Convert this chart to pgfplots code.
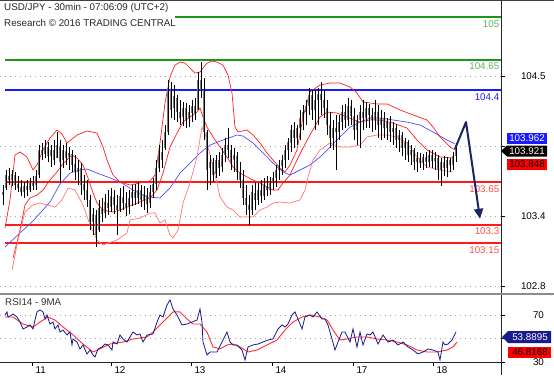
\documentclass[border=0pt]{standalone}
\usepackage{fontspec}
\setmainfont{Liberation Sans}
\usepackage{pgfplots}
\pgfplotsset{compat=1.18}
\usepackage{pgfplotstable}
\usetikzlibrary{arrows.meta}

\definecolor{lvlgreen}{HTML}{1E961E}
\definecolor{lvlgreentxt}{HTML}{5DB55D}
\definecolor{lvlred}{HTML}{FF1A1A}
\definecolor{lvlredtxt}{HTML}{FF5050}
\definecolor{lvlblue}{HTML}{1A1AFF}
\definecolor{bandred}{HTML}{FF2020}
\definecolor{bandlight}{HTML}{FF7777}
\definecolor{mablue}{HTML}{5050FF}
\definecolor{rsiblue}{HTML}{1A1A8C}
\definecolor{rsired}{HTML}{FF3030}
\definecolor{arrownavy}{HTML}{1C2466}
\definecolor{bodygray}{HTML}{7A7A7A}

\pgfplotstableread{
x lo hi o c
3 103.463 103.626 103.544 103.569
6 103.585 103.749 103.602 103.708
9 103.626 103.765 103.700 103.667
12 103.618 103.749 103.667 103.716
15 103.585 103.733 103.708 103.626
18 103.569 103.700 103.634 103.602
21 103.536 103.667 103.610 103.569
24 103.520 103.651 103.569 103.618
27 103.536 103.667 103.618 103.585
30 103.569 103.684 103.585 103.651
33 103.585 103.700 103.651 103.618
36 103.585 103.749 103.626 103.700
39 103.684 103.953 103.708 103.913
42 103.831 103.970 103.913 103.872
45 103.847 103.994 103.880 103.945
48 103.814 103.978 103.937 103.863
51 103.773 103.953 103.863 103.913
54 103.790 103.994 103.913 103.831
57 103.847 104.060 103.847 103.953
60 103.643 103.994 103.945 103.814
63 103.765 103.953 103.831 103.913
66 103.790 103.970 103.904 103.847
69 103.749 103.937 103.855 103.888
72 103.733 103.913 103.880 103.790
75 103.667 103.872 103.798 103.733
78 103.626 103.831 103.733 103.765
81 103.544 103.806 103.765 103.626
84 103.504 103.708 103.634 103.585
87 103.446 103.667 103.585 103.504
90 103.258 103.544 103.504 103.324
93 103.217 103.438 103.324 103.389
96 103.119 103.422 103.381 103.217
99 103.242 103.504 103.258 103.438
102 103.324 103.520 103.430 103.389
105 103.356 103.553 103.397 103.487
108 103.381 103.585 103.479 103.438
111 103.405 103.602 103.446 103.536
114 103.389 103.585 103.528 103.463
117 103.217 103.544 103.463 103.422
120 103.405 103.602 103.422 103.536
123 103.422 103.618 103.528 103.479
126 103.373 103.569 103.479 103.438
129 103.389 103.585 103.446 103.520
132 103.454 103.626 103.520 103.569
135 103.463 103.634 103.569 103.520
138 103.471 103.651 103.520 103.585
141 103.446 103.626 103.585 103.504
144 103.422 103.618 103.504 103.553
147 103.397 103.602 103.544 103.471
150 103.438 103.626 103.479 103.569
153 103.520 103.684 103.569 103.634
156 103.585 103.831 103.634 103.765
159 103.733 103.953 103.765 103.896
162 103.765 103.994 103.896 103.831
165 103.913 104.117 103.929 104.060
168 104.035 104.485 104.060 104.419
171 104.174 104.468 104.403 104.240
174 104.158 104.444 104.256 104.354
177 104.141 104.362 104.338 104.223
180 104.117 104.321 104.223 104.174
183 104.109 104.305 104.182 104.256
186 104.092 104.297 104.256 104.158
189 104.100 104.280 104.174 104.223
192 104.141 104.321 104.215 104.272
195 104.158 104.338 104.272 104.207
198 104.240 104.550 104.240 104.485
201 104.338 104.632 104.485 104.403
204 103.994 104.501 104.403 104.060
207 103.585 104.076 104.060 103.749
210 103.626 103.872 103.765 103.814
213 103.651 103.847 103.814 103.708
216 103.684 103.872 103.716 103.831
219 103.700 103.896 103.831 103.765
222 103.733 103.929 103.773 103.872
225 103.814 104.011 103.872 103.953
228 103.847 104.092 103.953 103.913
231 103.749 103.953 103.913 103.814
234 103.733 103.929 103.831 103.872
237 103.667 103.896 103.863 103.733
240 103.602 103.814 103.733 103.667
243 103.463 103.749 103.667 103.520
246 103.381 103.626 103.520 103.463
249 103.299 103.544 103.463 103.422
252 103.381 103.626 103.422 103.569
255 103.422 103.651 103.561 103.504
258 103.463 103.643 103.504 103.585
261 103.479 103.667 103.585 103.536
264 103.504 103.684 103.536 103.626
267 103.536 103.700 103.618 103.585
270 103.544 103.692 103.585 103.651
273 103.585 103.733 103.651 103.684
276 103.610 103.790 103.684 103.749
279 103.667 103.831 103.749 103.790
282 103.708 103.872 103.782 103.831
285 103.765 103.953 103.831 103.913
288 103.831 104.011 103.913 103.978
291 103.896 104.117 103.970 104.076
294 103.929 104.141 104.076 104.011
297 103.953 104.117 104.011 104.092
300 103.994 104.240 104.092 104.174
303 104.076 104.280 104.174 104.223
306 104.117 104.321 104.223 104.272
309 104.199 104.419 104.272 104.362
312 104.158 104.403 104.362 104.240
315 104.076 104.403 104.240 104.321
318 104.117 104.419 104.321 104.370
321 104.199 104.468 104.370 104.321
324 104.174 104.403 104.321 104.256
327 104.035 104.321 104.256 104.117
330 103.929 104.223 104.117 104.011
333 103.913 104.158 104.011 104.092
336 103.749 104.199 104.092 104.060
339 103.994 104.199 104.060 104.141
342 104.076 104.280 104.141 104.223
345 104.092 104.289 104.223 104.158
348 104.109 104.338 104.158 104.272
351 104.117 104.321 104.272 104.190
354 103.994 104.256 104.190 104.076
357 103.953 104.199 104.076 104.158
360 103.929 104.280 104.158 104.223
363 104.076 104.321 104.223 104.174
366 104.092 104.305 104.174 104.256
369 104.092 104.289 104.256 104.199
372 104.060 104.256 104.199 104.158
375 104.076 104.321 104.158 104.223
378 104.011 104.280 104.223 104.117
381 103.994 104.240 104.117 104.174
384 104.011 104.223 104.174 104.092
387 103.994 104.174 104.092 104.141
390 103.978 104.190 104.141 104.060
393 103.953 104.141 104.060 104.092
396 103.929 104.125 104.092 103.994
399 103.896 104.076 103.994 104.035
402 103.863 104.060 104.035 103.929
405 103.831 104.011 103.929 103.978
408 103.814 103.994 103.978 103.872
411 103.790 103.953 103.872 103.913
414 103.749 103.929 103.913 103.814
417 103.733 103.896 103.814 103.847
420 103.765 103.888 103.847 103.806
423 103.749 103.880 103.806 103.855
426 103.765 103.896 103.855 103.814
429 103.773 103.913 103.814 103.872
432 103.765 103.913 103.872 103.822
435 103.749 103.896 103.822 103.847
438 103.667 103.872 103.847 103.749
441 103.618 103.847 103.749 103.814
444 103.700 103.863 103.814 103.765
447 103.692 103.855 103.765 103.831
450 103.733 103.847 103.831 103.790
453 103.749 103.896 103.790 103.863
456 103.814 103.970 103.863 103.921
}\bars

\begin{document}
\begin{tikzpicture}
\useasboundingbox (0pt,0pt) rectangle (554pt,-375pt);
\fill[white] (0pt,0pt) rectangle (554pt,-375pt);

% ---------------- main price panel ----------------
\begin{axis}[
  at={(0pt,-1pt)}, anchor=north west,
  scale only axis, width=501pt, height=292pt,
  xmin=0, xmax=501, ymin=102.743, ymax=105.131,
  axis x line=none, axis y line*=right,
  axis line style={black!85, line width=0.8pt},
  xtick=\empty,
  ytick={104.518,103.946,103.374,102.80},
  yticklabels={104.5,,103.4,102.8},
  ymajorgrids,
  major grid style={black!35, dash pattern=on 0.8pt off 4.2pt},
  tick align=outside, major tick length=4pt,
  y tick style={black, line width=0.6pt},
  yticklabel style={font=\fontsize{9.8}{11}\selectfont, anchor=west, xshift=12.5pt},
  /pgf/number format/assume math mode=true,
  clip=true,
]
% level lines
\addplot[lvlgreen, line width=2pt] coordinates {(175,105) (501,105)};
\addplot[lvlgreen, line width=2pt] coordinates {(5,104.65) (501,104.65)};
\addplot[lvlblue, line width=2pt] coordinates {(5,104.4) (501,104.4)};
\addplot[lvlred, line width=2pt] coordinates {(5,103.65) (501,103.65)};
\addplot[lvlred, line width=2pt] coordinates {(5,103.3) (501,103.3)};
\addplot[lvlred, line width=2pt] coordinates {(5,103.15) (501,103.15)};

% long moving average
\addplot[mablue, line width=0.7pt] coordinates {
(5,103.119)(20,103.234)(33,103.332)(50,103.487)(60,103.634)(70,103.724)(80,103.749)(87,103.757)(97,103.724)(110,103.684)(120,103.651)(133,103.585)(147,103.528)(160,103.520)(170,103.602)(180,103.724)(190,103.806)(200,103.888)(210,103.953)(223,103.994)(237,104.035)(243,104.027)(253,103.970)(263,103.888)(273,103.806)(283,103.733)(290,103.708)(300,103.749)(310,103.790)(320,103.855)(330,103.937)(340,104.019)(350,104.100)(360,104.141)(370,104.174)(380,104.174)(393,104.158)(407,104.141)(420,104.117)(433,104.060)(447,103.994)(455,103.962)};

% Bollinger upper
\addplot[bandred, line width=0.7pt] coordinates {
(5,103.275)(10,103.504)(15,103.872)(20,103.896)(27,103.855)(33,103.749)(37,103.790)(43,103.913)(50,104.011)(57,104.076)(62,104.043)(67,103.970)(77,104.035)(87,104.068)(97,104.051)(103,103.937)(107,103.831)(113,103.708)(120,103.651)(130,103.626)(140,103.643)(150,103.659)(155,103.708)(160,103.970)(165,104.297)(170,104.509)(175,104.607)(180,104.632)(185,104.624)(190,104.583)(195,104.542)(200,104.550)(203,104.583)(207,104.624)(212,104.640)(217,104.632)(223,104.607)(228,104.526)(232,104.378)(235,104.100)(238,104.060)(247,104.076)(253,104.035)(260,103.970)(267,103.888)(273,103.831)(280,103.765)(285,103.733)(290,103.790)(297,103.913)(303,104.182)(310,104.387)(320,104.444)(330,104.460)(340,104.460)(350,104.428)(357,104.378)(363,104.305)(377,104.289)(387,104.289)(400,104.240)(413,104.199)(427,104.158)(433,104.100)(440,104.019)(450,103.937)(455,103.913)};

% Bollinger middle
\addplot[bandred, line width=0.7pt] coordinates {
(13,103.029)(20,103.258)(25,103.463)(30,103.520)(37,103.544)(43,103.585)(50,103.667)(57,103.733)(62,103.790)(67,103.831)(72,103.872)(77,103.847)(83,103.790)(88,103.684)(92,103.585)(97,103.479)(103,103.422)(113,103.405)(120,103.422)(127,103.446)(140,103.487)(150,103.520)(157,103.585)(163,103.724)(170,103.937)(177,104.051)(183,104.141)(190,104.182)(197,104.223)(200,104.256)(203,104.182)(207,104.100)(213,104.019)(220,103.937)(227,103.855)(233,103.773)(240,103.724)(247,103.692)(253,103.667)(260,103.643)(267,103.610)(273,103.585)(278,103.585)(283,103.643)(290,103.708)(297,103.831)(303,103.929)(310,104.035)(320,104.182)(327,104.223)(337,104.215)(347,104.182)(360,104.141)(370,104.158)(380,104.158)(393,104.133)(407,104.092)(417,103.994)(427,103.913)(440,103.855)(453,103.847)};

% Bollinger lower
\addplot[bandlight, line width=0.7pt] coordinates {
(12,102.931)(18,103.177)(25,103.405)(33,103.463)(40,103.479)(47,103.463)(55,103.446)(62,103.504)(68,103.602)(75,103.585)(83,103.463)(90,103.299)(97,103.177)(103,103.136)(117,103.177)(127,103.234)(130,103.340)(140,103.356)(150,103.397)(155,103.397)(160,103.315)(165,103.340)(170,103.217)(173,103.193)(178,103.258)(183,103.479)(190,103.643)(197,103.855)(202,104.100)(205,104.051)(207,103.970)(213,103.773)(217,103.643)(220,103.528)(227,103.446)(233,103.422)(240,103.364)(247,103.364)(253,103.364)(260,103.422)(267,103.446)(273,103.479)(280,103.487)(290,103.479)(300,103.504)(305,103.585)(308,103.692)(313,103.831)(320,103.913)(330,103.970)(340,103.937)(350,103.937)(360,103.953)(367,104.019)(377,104.035)(387,104.035)(397,104.019)(407,103.970)(417,103.855)(427,103.773)(440,103.749)(453,103.733)};

% candle bodies
\addplot[draw=none, mark=none, forget plot,
  error bars/.cd, y dir=plus, y explicit, error mark=none,
  error bar style={draw=bodygray, line width=2.4pt}]
  table[x=x, y expr={min(\thisrow{o},\thisrow{c})},
        y error plus expr={abs(\thisrow{c}-\thisrow{o})}] {\bars};
% high-low wicks
\addplot[draw=none, mark=none, forget plot,
  error bars/.cd, y dir=plus, y explicit, error mark=none,
  error bar style={draw=black, line width=0.6pt}]
  table[x=x, y=lo, y error plus expr={\thisrow{hi}-\thisrow{lo}}] {\bars};

% level labels
\begin{scope}[font=\fontsize{9.8}{11}\selectfont, inner sep=0.5pt]
\node[anchor=north east, text=lvlgreentxt] at (axis cs:500,105) [yshift=-2.5pt] {105};
\node[anchor=north east, text=lvlgreentxt] at (axis cs:500,104.65) [yshift=-2.5pt] {104.65};
\node[anchor=north east, text=lvlblue] at (axis cs:500,104.4) [yshift=-2.5pt] {104.4};
\node[anchor=north east, text=lvlredtxt] at (axis cs:500,103.65) [yshift=-2.5pt] {103.65};
\node[anchor=north east, text=lvlredtxt] at (axis cs:500,103.3) [yshift=-2.5pt] {103.3};
\node[anchor=north east, text=lvlredtxt] at (axis cs:500,103.15) [yshift=-2.5pt] {103.15};
\end{scope}

% forecast arrow
\draw[arrownavy, line width=2pt, line join=round,
  -{Triangle[length=10pt,width=9pt]}]
  (axis cs:455,103.921) -- (axis cs:466,104.141) -- (axis cs:480,103.35);
\end{axis}

% ---------------- RSI panel ----------------
\begin{axis}[
  at={(0pt,-295pt)}, anchor=north west,
  scale only axis, width=501pt, height=67pt,
  xmin=0, xmax=501, ymin=30, ymax=87,
  axis x line*=bottom, axis y line*=right,
  axis line style={black!85, line width=0.8pt},
  xtick={32,111,191,272,353,433},
  xticklabels={11,12,13,14,17,18},
  ytick={70,50,30}, yticklabels={70,,30},
  ymajorgrids,
  major grid style={black!35, dash pattern=on 0.8pt off 4.2pt},
  tick align=outside, major tick length=4pt,
  tick style={black, line width=0.6pt},
  xticklabel style={font=\fontsize{9.8}{11}\selectfont, anchor=north west, yshift=3pt},
  yticklabel style={font=\fontsize{9.8}{11}\selectfont, anchor=west, xshift=24.5pt},
  clip=true,
]
\addplot[rsired, line width=0.9pt] coordinates {
(5,68.3)(13,68.3)(23,62.3)(33,59.8)(40,64.0)(48,68.3)(55,65.7)(63,59.8)(73,53.0)(83,45.3)(93,38.5)(100,41.1)(110,45.3)(123,47.0)(133,49.6)(147,51.3)(153,55.5)(163,64.0)(173,72.6)(180,72.6)(187,66.6)(193,62.3)(200,62.3)(207,55.5)(213,42.8)(220,41.1)(227,44.5)(233,45.3)(240,42.8)(248,38.5)(257,40.2)(267,44.5)(277,48.7)(285,57.2)(293,64.0)(302,68.3)(310,70)(320,68.3)(327,65.7)(333,57.2)(340,48.7)(347,49.6)(357,51.3)(367,51.3)(377,49.6)(387,48.7)(397,47.0)(407,44.5)(417,40.2)(427,38.5)(437,38.5)(447,40.2)(453,42.8)(457,47.0)};
\addplot[rsiblue, line width=0.8pt] coordinates {
(5,70)(7,72.6)(8,68.3)(12,70)(13,70.9)(17,68.3)(20,64.0)(23,58.1)(27,59.8)(30,61.5)(33,58.1)(35,65.7)(37,72.6)(40,74.3)(43,72.6)(45,66.6)(47,70)(50,62.3)(53,64.0)(55,58.1)(58,61.5)(60,55.5)(63,57.2)(67,53.0)(70,55.5)(72,44.5)(73,49.6)(77,47.0)(80,41.1)(83,44.5)(87,36.8)(90,40.2)(93,36.0)(95,34.3)(98,41.1)(102,42.8)(105,45.3)(108,44.5)(112,40.2)(113,47.0)(117,45.3)(120,53.0)(123,49.6)(127,47.0)(130,51.3)(133,55.5)(137,53.0)(140,53.8)(143,47.0)(147,53.0)(153,53.8)(157,64.0)(160,70)(163,68.3)(167,78.5)(170,82.8)(173,75.1)(177,70)(182,61.5)(187,62.3)(192,64.0)(197,65.7)(200,75.1)(202,64.0)(203,47.0)(207,36.0)(210,38.5)(217,38.5)(222,47.0)(227,55.5)(230,47.0)(233,44.5)(237,44.5)(242,40.2)(245,31.7)(248,42.8)(253,44.5)(258,45.3)(263,47.0)(268,48.7)(273,49.6)(278,58.1)(282,61.5)(285,59.8)(288,62.3)(292,70)(295,72.6)(298,66.6)(302,58.1)(305,68.3)(310,70)(313,68.3)(317,72.6)(322,66.6)(325,66.6)(328,61.5)(332,49.6)(335,40.2)(338,47.0)(342,55.5)(345,55.5)(350,47.0)(353,58.1)(357,42.8)(360,55.5)(363,44.5)(367,53.8)(370,53.0)(373,55.5)(378,45.3)(383,53.0)(388,47.0)(393,48.7)(398,44.5)(403,47.0)(408,42.8)(413,40.2)(418,36.8)(423,38.5)(428,41.1)(433,40.2)(438,38.5)(440,31.7)(443,47.0)(445,44.5)(448,45.3)(452,48.7)(456,55.5)};
\end{axis}

% ---------------- frame and annotations ----------------
\draw[black!75, line width=1pt] (0pt,-0.5pt) -- (554pt,-0.5pt);
\draw[black!85, line width=0.8pt] (501pt,0pt) -- (501pt,-375pt);
\draw[black!45, line width=2.5pt] (0pt,-294pt) -- (554pt,-294pt);

\node[anchor=base west, inner sep=0pt, font=\fontsize{9.8}{11}\selectfont, text=black!85] at (4pt,-10pt) {USD/JPY - 30min - 07:06:09 (UTC+2)};
\node[anchor=base west, inner sep=0pt, font=\fontsize{9.8}{11}\selectfont, text=black!85] at (4pt,-26pt) {Research © 2016 TRADING CENTRAL};
\node[anchor=base west, inner sep=0pt, font=\fontsize{9.8}{11}\selectfont, text=black!80] at (5pt,-305pt) {RSI14 - 9MA};

% value boxes, price panel
\fill[lvlblue] (507pt,-132.5pt) rectangle (547pt,-143.5pt);
\node[font=\fontsize{9.8}{11}\selectfont, text=white, inner sep=0pt] at (527pt,-138pt) {103.962};
\fill[black] (501pt,-151pt) -- (507pt,-145.5pt) -- (547pt,-145.5pt) -- (547pt,-156.5pt) -- (507pt,-156.5pt) -- cycle;
\node[font=\fontsize{9.8}{11}\selectfont, text=white, inner sep=0pt] at (527pt,-151pt) {103.921};
\fill[red] (507pt,-158.5pt) rectangle (547pt,-169.5pt);
\node[font=\fontsize{9.8}{11}\selectfont, text=black, inner sep=0pt] at (527pt,-164pt) {103.848};

% value boxes, RSI panel
\fill[rsiblue] (502pt,-337pt) -- (508pt,-331pt) -- (551pt,-331pt) -- (551pt,-343pt) -- (508pt,-343pt) -- cycle;
\node[font=\fontsize{9.8}{11}\selectfont, text=white, inner sep=0pt] at (530pt,-337pt) {53.8895};
\fill[red] (508pt,-347pt) rectangle (551pt,-358pt);
\node[font=\fontsize{9.8}{11}\selectfont, text=black, inner sep=0pt] at (530pt,-352.5pt) {46.8168};
\end{tikzpicture}
\end{document}
